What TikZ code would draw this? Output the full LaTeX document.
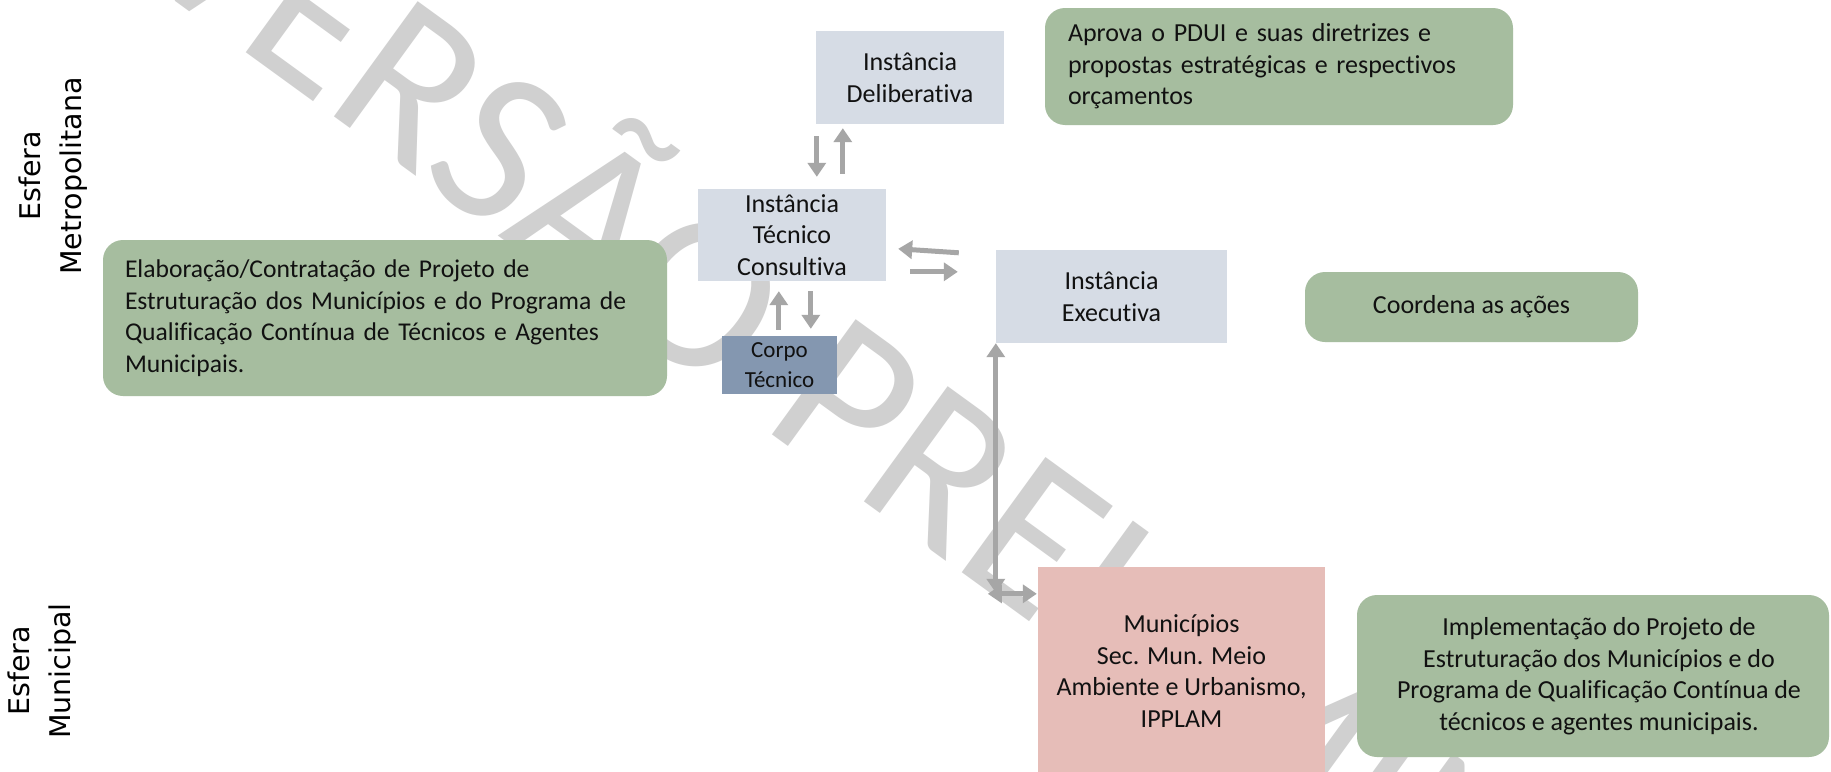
\documentclass[tikz,border=0pt]{standalone}
\usepackage{fontspec}
\setmainfont{Carlito}[Ligatures=NoCommon]
\newfontfamily\labelfont{DejaVu Sans}
\usetikzlibrary{calc,arrows.meta}

\definecolor{instfill}{HTML}{D6DCE5}
\definecolor{corpofill}{HTML}{8497B0}
\definecolor{greenfill}{HTML}{A6BD9F}
\definecolor{munfill}{HTML}{E6BDB8}
\definecolor{arrowgray}{HTML}{A6A6A6}
\definecolor{markgray}{HTML}{D0D0D0}
\definecolor{ink}{HTML}{111111}

\tikzset{
  boxtext/.style={font=\fontsize{26}{31.5}\selectfont, text=ink},
  inst/.style={boxtext, rectangle, fill=instfill, inner sep=0pt, align=center},
  corpobox/.style={rectangle, fill=corpofill, inner sep=0pt, align=center,
    font=\fontsize{23}{30}\selectfont, text=ink},
  munbox/.style={boxtext, rectangle, fill=munfill, inner sep=0pt, align=center},
  greenbox/.style={boxtext, rectangle, rounded corners=20pt, fill=greenfill},
  flowarrow/.style={draw=arrowgray, line width=5pt,
    -{Triangle[width=18pt,length=14pt]}},
  twoway/.style={draw=arrowgray, line width=5pt,
    {Triangle[width=18pt,length=14pt]}-{Triangle[width=18pt,length=14pt]}},
  spherelabel/.style={rotate=90, align=center, text=black,
    font=\labelfont\fontsize{28.5}{41}\selectfont},
}

\begin{document}
\begin{tikzpicture}[x=1pt,y=-1pt]
  \useasboundingbox (0,0) rectangle (1831,771);
  \fill[white] (0,0) rectangle (1831,771);
  \clip (0,0) rectangle (1831,771);

  % watermark behind everything
  \node[anchor=base, rotate=-36, text=markgray,
        font=\fontsize{222}{222}\selectfont] (mark) at (903,530) {VERSÃO PRELIMINAR};

  % sphere labels
  \node[spherelabel] (metro) at (53,176) {Esfera\\Metropolitana};
  \node[spherelabel] (munlabel) at (42,671) {Esfera\\Municipal};

  % instances
  \node[inst, minimum width=188, minimum height=93] (delib) at (910,77.5)
    {Instância\\Deliberativa};
  \node[inst, minimum width=188, minimum height=92] (tecnico) at (792,235)
    {Instância\\Técnico\\Consultiva};
  \node[corpobox, minimum width=115, minimum height=58] (corpo) at (779.5,365)
    {Corpo\\Técnico};
  \node[inst, minimum width=231, minimum height=93] (exec) at (1111.5,296.5)
    {Instância\\Executiva};
  \node[munbox, minimum width=287, minimum height=208] (munic) at (1181.5,671)
    {Municípios\\Sec. Mun. Meio\\Ambiente e Urbanismo,\\IPPLAM};

  % descriptions
  \node[greenbox, font=\fontsize{25.6}{31.5}\selectfont, text width=520,
        inner xsep=22, inner ysep=0pt, minimum height=156, align=left] (elab) at (385,318)
    {Elaboração/Contratação de Projeto de\\Estruturação dos Municípios e do Programa de\\Qualificação Contínua de Técnicos e Agentes\\Municipais.};
  \node[greenbox, text width=422, inner xsep=23, inner ysep=0pt,
        minimum height=117, align=left] (aprova) at (1279,66.5)
    {Aprova o PDUI e suas diretrizes e\\propostas estratégicas e respectivos\\orçamentos};
  \node[greenbox, minimum width=333, minimum height=70, inner sep=0pt,
        align=center] (coord) at (1471.5,307) {Coordena as ações};
  \node[greenbox, minimum width=472, minimum height=162, inner sep=0pt,
        align=center] (implem) at (1593,676)
    {\hspace*{12pt}Implementação do Projeto de\\\hspace*{12pt}Estruturação dos Municípios e do\\\hspace*{12pt}Programa de Qualificação Contínua de\\\hspace*{12pt}técnicos e agentes municipais.};

  % flows between instances
  \draw[flowarrow] ($(delib.south west)+(1,12)$) -- ($(tecnico.north west)+(119,-12)$);
  \draw[flowarrow] ($(tecnico.north west)+(145,-15)$) -- ($(delib.south west)+(27,4)$);
  \draw[flowarrow] ($(exec.north west)+(-37,3)$) -- ($(tecnico.north east)+(12,60)$);
  \draw[flowarrow] ($(tecnico.north east)+(24,83)$) -- ($(exec.north west)+(-38,22)$);
  \draw[flowarrow] ($(corpo.north west)+(57,-6)$) -- ($(tecnico.south west)+(81,10)$);
  \draw[flowarrow] ($(tecnico.south west)+(113,10)$) -- ($(corpo.north west)+(89,-7)$);
  \draw[twoway] (exec.south west) -- ($(munic.north west)+(-42,26)$);
  \draw[twoway] ($(munic.north west)+(-50,27)$) -- ($(munic.north west)+(-1,27)$);
\end{tikzpicture}
\end{document}
